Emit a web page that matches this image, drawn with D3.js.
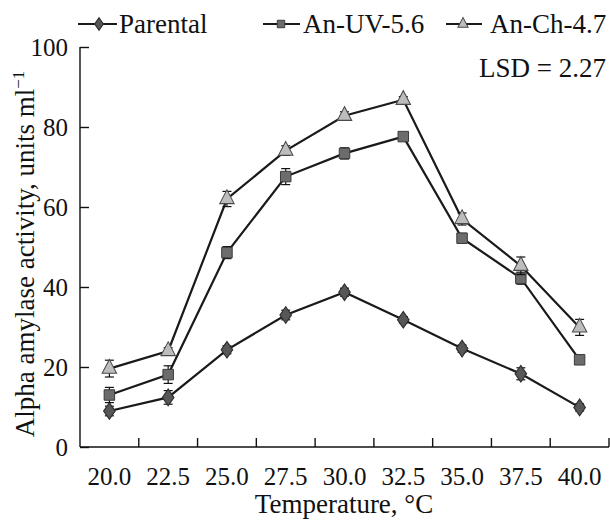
<!DOCTYPE html>
<meta charset="utf-8">
<head>
  <style>
    body { margin: 0; background: #fff; }
    svg { display: block; }
    svg text { font-family: "Liberation Serif", "Times New Roman", serif !important; fill: #111; }
  </style>
</head>
<body>
<svg id="chart" width="610" height="521"></svg>
<script src="https://cdn.jsdelivr.net/npm/d3@7/dist/d3.min.js"></script>
<script>

  var serif = "Liberation Serif";

  var temps = ["20.0", "22.5", "25.0", "27.5", "30.0", "32.5", "35.0", "37.5", "40.0"];
  var seriesNames = ["Parental", "An-UV-5.6", "An-Ch-4.7"];

  var parental    = [9.0, 12.4, 24.3, 33.0, 38.7, 31.8, 24.6, 18.3, 9.9];
  var parentalErr = [1.2, 1.7, 1.0, 1.2, 1.0, 0.8, 0.9, 1.5, 0.9];
  var anUV        = [13.0, 18.1, 48.6, 67.6, 73.4, 77.6, 52.2, 42.2, 21.8];
  var anUVErr     = [1.9, 2.2, 1.5, 2.0, 1.4, 1.0, 1.2, 1.5, 0.8];
  var anCh        = [19.6, 24.0, 62.0, 74.1, 82.8, 86.8, 57.0, 45.3, 29.9];
  var anChErr     = [2.1, 0.8, 1.9, 1.2, 1.0, 0.8, 1.5, 2.2, 2.0];

  var yTicks = [0, 20, 40, 60, 80, 100];

  var svg = d3.select("#chart");

  var x = d3.scaleBand().domain(temps).range([80, 609]).paddingInner(0).paddingOuter(0);
  var y = d3.scaleLinear().domain([0, 100]).range([447, 47]);

  // y axis, ticks point inward
  var yAxis = svg.append("g")
    .attr("transform", "translate(80,0)")
    .call(d3.axisLeft(y).tickValues(yTicks).tickSizeInner(-9).tickSizeOuter(0).tickPadding(12))
    .attr("font-family", serif);
  yAxis.select(".domain").remove();
  yAxis.selectAll(".tick line").attr("stroke", "#111").attr("stroke-width", 1.4);
  yAxis.append("line").attr("x1", 0).attr("x2", 0).attr("y1", y(100)).attr("y2", y(0))
    .attr("stroke", "#111").attr("stroke-width", 1.4);
  yAxis.selectAll("text").attr("font-size", 25).attr("font-family", serif).attr("fill", "#111");

  // x axis: labels at band centres, ticks at band edges
  var xAxis = svg.append("g")
    .attr("transform", "translate(0,447)")
    .call(d3.axisBottom(x).tickSize(0).tickPadding(20))
    .attr("font-family", serif);
  xAxis.select(".domain").remove();
  xAxis.append("line").attr("x1", 80).attr("x2", 609).attr("y1", 0).attr("y2", 0)
    .attr("stroke", "#111").attr("stroke-width", 1.4);
  xAxis.selectAll("text").attr("font-size", 25).attr("font-family", serif).attr("fill", "#111");
  xAxis.selectAll(".edge").data(temps).enter().append("line")
    .attr("class", "edge")
    .attr("x1", function (d) { return x(d) + x.bandwidth(); })
    .attr("x2", function (d) { return x(d) + x.bandwidth(); })
    .attr("y1", 0).attr("y2", -9)
    .attr("stroke", "#111").attr("stroke-width", 1.4);

  // axis titles
  svg.append("text")
    .attr("x", 344).attr("y", 513)
    .attr("text-anchor", "middle")
    .attr("font-family", serif)
    .attr("font-size", 27)
    .text("Temperature, \u00b0C");

  var yt = svg.append("text")
    .attr("transform", "translate(34,254) rotate(-90)")
    .attr("text-anchor", "middle")
    .attr("font-family", serif)
    .attr("font-size", 27);
  yt.append("tspan").text("Alpha amylase activity, units ml");
  yt.append("tspan").attr("font-size", 17).attr("dy", -10).text("\u22121");

  svg.append("text")
    .attr("x", 606).attr("y", 77)
    .attr("text-anchor", "end")
    .attr("font-family", serif)
    .attr("font-size", 27)
    .text("LSD = 2.27");

  // marker shapes
  var shapes = [
    { sym: d3.symbolDiamond, size: 80, fill: "#575757", stroke: "#2e2e2e", sc: "scale(1.2,1)" },
    { sym: d3.symbolSquare, size: 110, fill: "#6c6c6c", stroke: "#3a3a3a", sc: "" },
    { sym: d3.symbolTriangle, size: 90, fill: "#bdbdbd", stroke: "#4a4a4a", sc: "scale(1,1.1)" }
  ];
  var allVals = [parental, anUV, anCh];
  var allErr = [parentalErr, anUVErr, anChErr];

  var cx = function (i) { return x(temps[i]) + x.bandwidth() / 2; };

  var line = d3.line()
    .x(function (d, i) { return cx(i); })
    .y(function (d) { return y(d); });

  allVals.forEach(function (vals) {
    svg.append("path").datum(vals)
      .attr("d", line)
      .attr("fill", "none")
      .attr("stroke", "#1a1a1a")
      .attr("stroke-width", 2.2);
  });

  allVals.forEach(function (vals, s) {
    var g = svg.append("g");
    var errs = allErr[s];
    vals.forEach(function (v, i) {
      var px = cx(i);
      g.append("line").attr("x1", px).attr("x2", px)
        .attr("y1", y(v - errs[i])).attr("y2", y(v + errs[i]))
        .attr("stroke", "#111").attr("stroke-width", 1.2);
      [v - errs[i], v + errs[i]].forEach(function (e) {
        g.append("line").attr("x1", px - 4.5).attr("x2", px + 4.5)
          .attr("y1", y(e)).attr("y2", y(e))
          .attr("stroke", "#111").attr("stroke-width", 1.2);
      });
    });
    var sh = shapes[s];
    g.selectAll("path.m").data(vals).enter().append("path")
      .attr("class", "m")
      .attr("d", d3.symbol().type(sh.sym).size(sh.size))
      .attr("transform", function (d, i) {
        return "translate(" + cx(i) + "," + y(d) + ") " + sh.sc;
      })
      .attr("fill", sh.fill)
      .attr("stroke", sh.stroke)
      .attr("stroke-width", 1);
  });

  // legend
  var legend = [
    { x1: 78, x2: 117, mx: 99, tx: 119 },
    { x1: 263, x2: 300, mx: 281, tx: 303 },
    { x1: 446, x2: 482, mx: 463, tx: 490 }
  ];
  legend.forEach(function (l, s) {
    var sh = shapes[s];
    svg.append("line").attr("x1", l.x1).attr("x2", l.x2).attr("y1", 24).attr("y2", 24)
      .attr("stroke", "#1a1a1a").attr("stroke-width", 2);
    svg.append("path")
      .attr("d", d3.symbol().type(sh.sym).size(s === 1 ? 55 : 45))
      .attr("transform", "translate(" + l.mx + ",24) " + sh.sc)
      .attr("fill", sh.fill).attr("stroke", sh.stroke).attr("stroke-width", 1);
    svg.append("text").attr("x", l.tx).attr("y", 33)
      .attr("font-family", serif)
      .attr("font-size", 27)
      .text(seriesNames[s]);
  });

</script>
</body>
